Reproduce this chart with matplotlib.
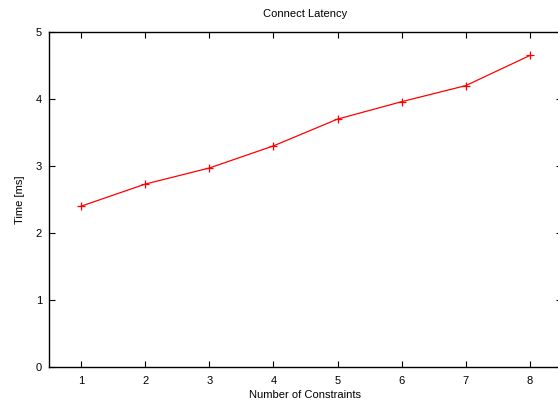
import matplotlib.pyplot as plt

# data
constraints = [1, 2, 3, 4, 5, 6, 7, 8]
latency_ms = [2.40, 2.73, 2.97, 3.30, 3.70, 3.96, 4.20, 4.65]

plt.rcParams['font.family'] = ['Liberation Sans', 'DejaVu Sans']

fig = plt.figure(figsize=(5.58, 4.05), dpi=100)
ax = fig.add_axes([49 / 558, 38 / 405, 513 / 558, 335 / 405])

ax.plot(constraints, latency_ms, color='red', linewidth=0.9,
        marker='+', markersize=5.5, markeredgewidth=0.9)

ax.set_xlim(0.5, 8.5)
ax.set_ylim(0, 5)
ax.set_xticks(constraints)
ax.set_yticks([0, 1, 2, 3, 4, 5])
ax.tick_params(direction='in', top=True, right=True, length=4, width=0.8,
               labelsize=8, pad=5)
ax.tick_params(axis='x', pad=6.5)
for s in ax.spines.values():
    s.set_linewidth(1)

ax.set_title('Connect Latency', fontsize=8, pad=11)
ax.set_xlabel('Number of Constraints', fontsize=8, labelpad=3)
ax.set_ylabel('Time [ms]', fontsize=8, labelpad=8)

fig.savefig('out.png', dpi=100)
